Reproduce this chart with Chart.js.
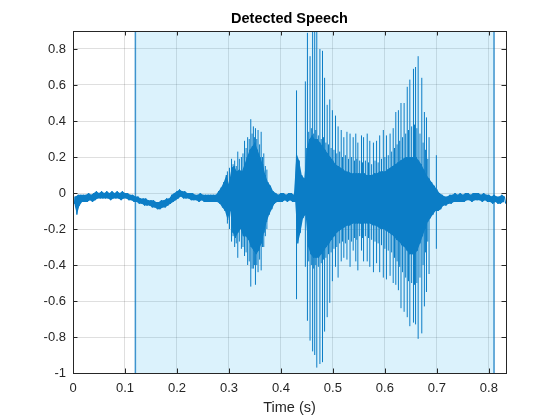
<!DOCTYPE html>
<html lang="en">
<head>
<meta charset="UTF-8">
<title>Detected Speech</title>
<script src="https://cdn.jsdelivr.net/npm/chart.js"></script>
<style>
  html, body { margin: 0; padding: 0; background: #fff; }
  #wrap { width: 560px; height: 420px; }
</style>
</head>
<body>
<div id="wrap"><canvas id="speech" width="560" height="420"></canvas></div>
<script>
// envelope of the waveform, one reading every 5 ms
const coreStep = 0.005;
const coreHigh = [
  -0.02, -0.02, -0.01, -0.01, -0.01, -0.01, 0.00, -0.01, 0.00, 0.01,
  0.00, 0.01, 0.00, 0.01, 0.00, 0.01, 0.00, 0.01, 0.00, 0.01,
  0.00, 0.00, -0.01, -0.01, -0.02, -0.02, -0.03, -0.03, -0.03, -0.04,
  -0.04, -0.04, -0.05, -0.05, -0.04, -0.04, -0.03, -0.03, -0.01, 0.00,
  0.01, 0.02, 0.01, 0.01, 0.00, 0.00, 0.00, -0.01, -0.01, 0.00,
  -0.01, -0.01, -0.01, -0.01, -0.01, -0.01, 0.01, 0.03, 0.06, 0.10,
  0.05, 0.14, 0.15, 0.12, 0.13, 0.12, 0.16, 0.20, 0.24, 0.26,
  0.28, 0.24, 0.20, 0.16, 0.10, 0.06, 0.04, 0.01, 0.00, -0.01,
  0.00, 0.00, -0.01, 0.00, 0.00, -0.01, 0.22, 0.18, 0.10, 0.08,
  0.25, 0.30, 0.32, 0.30, 0.30, 0.28, 0.26, 0.24, 0.22, 0.20,
  0.18, 0.16, 0.15, 0.14, 0.13, 0.12, 0.12, 0.11, 0.11, 0.11,
  0.11, 0.11, 0.11, 0.10, 0.10, 0.10, 0.11, 0.11, 0.12, 0.12,
  0.12, 0.13, 0.14, 0.15, 0.16, 0.17, 0.18, 0.19, 0.20, 0.20,
  0.20, 0.20, 0.20, 0.18, 0.16, 0.13, 0.10, 0.08, 0.06, 0.04,
  0.02, 0.00, -0.01, -0.02, -0.02, -0.01, -0.01, 0.00, -0.01, 0.00,
  -0.01, 0.00, 0.00, -0.01, 0.00, 0.00, 0.00, -0.01, 0.00, -0.01,
  -0.01, -0.02, -0.01, -0.02, -0.02, -0.01, -0.02
];
const coreLow = [
  -0.06, -0.12, -0.07, -0.05, -0.05, -0.05, -0.04, -0.05, -0.04, -0.03,
  -0.03, -0.03, -0.03, -0.03, -0.04, -0.03, -0.03, -0.03, -0.04, -0.03,
  -0.03, -0.04, -0.04, -0.05, -0.05, -0.06, -0.06, -0.07, -0.07, -0.07,
  -0.08, -0.08, -0.09, -0.09, -0.08, -0.08, -0.07, -0.06, -0.05, -0.04,
  -0.03, -0.02, -0.03, -0.03, -0.03, -0.04, -0.04, -0.04, -0.05, -0.04,
  -0.05, -0.05, -0.05, -0.05, -0.05, -0.05, -0.06, -0.08, -0.10, -0.15,
  -0.10, -0.22, -0.25, -0.22, -0.20, -0.24, -0.24, -0.26, -0.30, -0.32,
  -0.34, -0.32, -0.28, -0.22, -0.16, -0.12, -0.09, -0.06, -0.05, -0.05,
  -0.05, -0.04, -0.05, -0.04, -0.05, -0.05, -0.28, -0.22, -0.14, -0.12,
  -0.30, -0.34, -0.36, -0.36, -0.36, -0.34, -0.32, -0.30, -0.28, -0.26,
  -0.24, -0.22, -0.21, -0.20, -0.19, -0.18, -0.18, -0.17, -0.17, -0.17,
  -0.17, -0.17, -0.17, -0.17, -0.17, -0.18, -0.18, -0.19, -0.20, -0.20,
  -0.21, -0.22, -0.23, -0.24, -0.26, -0.27, -0.29, -0.30, -0.32, -0.34,
  -0.34, -0.34, -0.32, -0.28, -0.24, -0.20, -0.16, -0.14, -0.12, -0.10,
  -0.10, -0.09, -0.07, -0.07, -0.06, -0.06, -0.05, -0.05, -0.05, -0.05,
  -0.05, -0.04, -0.04, -0.05, -0.04, -0.04, -0.04, -0.05, -0.04, -0.05,
  -0.05, -0.06, -0.05, -0.06, -0.06, -0.05, -0.06
];

// pitch pulses / large excursions
const pulseTime = [
  0.297, 0.305, 0.311, 0.317, 0.324, 0.330, 0.336, 0.342, 0.347, 0.351, 0.356, 0.362, 0.367, 0.373,
  0.430, 0.447, 0.451, 0.456, 0.461, 0.465, 0.469, 0.475, 0.480, 0.484, 0.489, 0.494, 0.499, 0.505,
  0.510, 0.516, 0.521, 0.527, 0.533, 0.539, 0.544, 0.548, 0.555, 0.559, 0.566, 0.571, 0.578, 0.584,
  0.590, 0.597, 0.603, 0.610, 0.616, 0.621, 0.626, 0.631, 0.637, 0.643, 0.648, 0.655, 0.659, 0.664,
  0.671, 0.676, 0.680, 0.685, 0.699
];
const pulseTop = [
  0.12, 0.19, 0.18, 0.23, 0.20, 0.29, 0.31, 0.41, 0.37, 0.36, 0.35, 0.34, 0.22, 0.13,
  0.57, 0.62, 0.89, 0.76, 0.90, 0.90, 0.90, 0.80, 0.79, 0.64, 0.49, 0.52, 0.46, 0.43,
  0.37, 0.35, 0.31, 0.34, 0.33, 0.31, 0.33, 0.28, 0.32, 0.31, 0.33, 0.29, 0.28, 0.29,
  0.32, 0.35, 0.32, 0.33, 0.36, 0.45, 0.46, 0.50, 0.50, 0.59, 0.63, 0.69, 0.70, 0.76,
  0.64, 0.45, 0.42, 0.31, 0.21
];
const pulseBottom = [
  -0.17, -0.27, -0.30, -0.36, -0.31, -0.35, -0.40, -0.52, -0.42, -0.51, -0.44, -0.43, -0.30, -0.20,
  -0.59, -0.41, -0.71, -0.82, -0.88, -0.90, -0.97, -0.95, -0.94, -0.77, -0.69, -0.61, -0.49, -0.41,
  -0.47, -0.38, -0.36, -0.37, -0.41, -0.32, -0.38, -0.43, -0.32, -0.38, -0.38, -0.41, -0.44, -0.39,
  -0.44, -0.47, -0.48, -0.46, -0.50, -0.51, -0.54, -0.64, -0.66, -0.69, -0.74, -0.72, -0.73, -0.81,
  -0.78, -0.63, -0.55, -0.45, -0.31
];

// smaller secondary peaks between the main pulses
const echoTime = [
  0.301, 0.308, 0.314, 0.320, 0.327, 0.333, 0.339, 0.3445, 0.349, 0.3535, 0.359, 0.3645, 0.370,
  0.4535, 0.4585, 0.463, 0.467, 0.472, 0.4775, 0.482, 0.4865, 0.4915, 0.4965, 0.502, 0.5075,
  0.513, 0.5185, 0.524, 0.530, 0.536, 0.5415, 0.546, 0.5515, 0.557, 0.5625, 0.5685, 0.5745,
  0.581, 0.587, 0.5935, 0.600, 0.6065, 0.613, 0.6185, 0.6235, 0.6285, 0.634, 0.640, 0.6455,
  0.6515, 0.657, 0.6615, 0.6675, 0.6735, 0.678, 0.6825
];
const echoTop = [
  0.14, 0.16, 0.15, 0.19, 0.22, 0.25, 0.30, 0.33, 0.31, 0.30, 0.27, 0.20, 0.15,
  0.34, 0.36, 0.33, 0.35, 0.32, 0.30, 0.31, 0.28, 0.27, 0.25, 0.24, 0.22,
  0.23, 0.20, 0.21, 0.19, 0.20, 0.18, 0.19, 0.18, 0.17, 0.18, 0.17, 0.16,
  0.18, 0.17, 0.19, 0.20, 0.21, 0.23, 0.25, 0.27, 0.29, 0.31, 0.33, 0.35,
  0.37, 0.38, 0.36, 0.33, 0.28, 0.24, 0.19
];
const echoBottom = [
  -0.20, -0.24, -0.28, -0.27, -0.30, -0.33, -0.38, -0.42, -0.40, -0.40, -0.37, -0.30, -0.24,
  -0.38, -0.40, -0.42, -0.40, -0.41, -0.39, -0.37, -0.36, -0.34, -0.33, -0.31, -0.30,
  -0.28, -0.27, -0.28, -0.26, -0.27, -0.25, -0.26, -0.24, -0.25, -0.24, -0.25, -0.26,
  -0.27, -0.28, -0.29, -0.31, -0.32, -0.33, -0.36, -0.38, -0.41, -0.44, -0.47, -0.49,
  -0.50, -0.51, -0.50, -0.47, -0.40, -0.33, -0.27
];

// detected speech region (s)
const speechBounds = [0.12, 0.81];

const xTicks = [0, 0.1, 0.2, 0.3, 0.4, 0.5, 0.6, 0.7, 0.8];
const yTicks = [-1, -0.8, -0.6, -0.4, -0.2, 0, 0.2, 0.4, 0.6, 0.8];
const xLimits = [0, 0.833];
const yLimits = [-1, 0.9];

const waveColor = '#0b7dc6';
const fontFamily = '"Liberation Sans", Arial, Helvetica, sans-serif';

// zigzag between the high and low readings so the edges look ragged
const corePoints = [];
const upperPoints = [];
const lowerPoints = [];
for (let i = 0; i < coreHigh.length; i++) {
  const t = i * coreStep;
  corePoints.push({ x: t, y: coreHigh[i] });
  corePoints.push({ x: t + coreStep / 2, y: coreLow[i] });
  upperPoints.push({ x: t, y: coreHigh[i] });
  lowerPoints.push({ x: t + coreStep / 2, y: coreLow[i] });
}

// vertical strokes, broken by null points
function strokes(times, tops, bottoms) {
  const pts = [];
  for (let i = 0; i < times.length; i++) {
    pts.push({ x: times[i], y: bottoms[i] });
    pts.push({ x: times[i], y: tops[i] });
    pts.push({ x: times[i], y: null });
  }
  return pts;
}

const pulsePoints = strokes(pulseTime, pulseTop, pulseBottom);
const echoPoints = strokes(echoTime, echoTop, echoBottom);
const edgePoints = strokes(speechBounds, [yLimits[1], yLimits[1]], [yLimits[0], yLimits[0]]);

// title over the plot area, box + inward ticks on all four sides
const boxAxes = {
  id: 'boxAxes',
  afterDraw(chart) {
    const ctx = chart.ctx;
    const a = chart.chartArea;
    const xs = chart.scales.x, ys = chart.scales.y;
    const len = 4.5;
    ctx.save();
    ctx.strokeStyle = '#262626';
    ctx.lineWidth = 1;
    ctx.beginPath();
    xs.ticks.forEach(function (tk) {
      const px = Math.round(xs.getPixelForValue(tk.value)) + 0.5;
      ctx.moveTo(px, a.bottom); ctx.lineTo(px, a.bottom - len);
      ctx.moveTo(px, a.top); ctx.lineTo(px, a.top + len);
    });
    ys.ticks.forEach(function (tk) {
      const py = Math.round(ys.getPixelForValue(tk.value)) + 0.5;
      ctx.moveTo(a.left, py); ctx.lineTo(a.left + len, py);
      ctx.moveTo(a.right, py); ctx.lineTo(a.right - len, py);
    });
    ctx.stroke();
    ctx.strokeRect(Math.round(a.left) + 0.5, Math.round(a.top) + 0.5,
      Math.round(a.right - a.left), Math.round(a.bottom - a.top));

    ctx.fillStyle = '#000';
    ctx.font = 'bold 14.5px ' + fontFamily;
    ctx.textAlign = 'center';
    ctx.textBaseline = 'middle';
    ctx.fillText('Detected Speech', (a.left + a.right) / 2, 19);
    ctx.restore();
  }
};

const fmt = function (v) { return String(Math.round(v * 10) / 10); };

const lineBase = { showLine: true, pointRadius: 0, tension: 0, spanGaps: false };

new Chart(document.getElementById('speech'), {
  type: 'scatter',
  data: {
    datasets: [
      Object.assign({}, lineBase, {
        label: 'upper', data: upperPoints, fill: '+1',
        backgroundColor: waveColor, borderWidth: 0, order: 1
      }),
      Object.assign({}, lineBase, {
        label: 'lower', data: lowerPoints, fill: false, borderWidth: 0, order: 1
      }),
      Object.assign({}, lineBase, {
        label: 'wave', data: corePoints, borderColor: waveColor, borderWidth: 1, order: 1
      }),
      Object.assign({}, lineBase, {
        label: 'echoes', data: echoPoints, borderColor: waveColor, borderWidth: 1, order: 1
      }),
      Object.assign({}, lineBase, {
        label: 'pulses', data: pulsePoints, borderColor: waveColor, borderWidth: 1, order: 1
      }),
      Object.assign({}, lineBase, {
        label: 'edges', data: edgePoints, borderColor: 'rgba(0,114,189,0.75)', borderWidth: 1.5, order: 2
      }),
      Object.assign({}, lineBase, {
        label: 'speech',
        data: [{ x: speechBounds[0], y: yLimits[1] }, { x: speechBounds[1], y: yLimits[1] }],
        fill: 'start', backgroundColor: 'rgba(77,190,238,0.2)', borderWidth: 0, order: 3
      })
    ]
  },
  options: {
    responsive: false,
    animation: false,
    layout: { padding: { left: 0, right: 54, top: 31, bottom: 0 } },
    plugins: {
      legend: { display: false },
      tooltip: { enabled: false },
      title: { display: false }
    },
    scales: {
      x: {
        type: 'linear',
        min: xLimits[0],
        max: xLimits[1],
        afterBuildTicks: function (s) { s.ticks = xTicks.map(function (v) { return { value: v }; }); },
        afterFit: function (s) { s.height = 47; },
        grid: { color: 'rgba(38,38,38,0.15)', drawTicks: false },
        border: { display: false },
        ticks: {
          color: '#262626',
          font: { family: fontFamily, size: 13 },
          padding: 8,
          autoSkip: false,
          maxRotation: 0,
          callback: fmt
        },
        title: {
          display: true,
          text: 'Time (s)',
          color: '#262626',
          font: { family: fontFamily, size: 14.5 },
          padding: { top: 0, bottom: 3 }
        }
      },
      y: {
        type: 'linear',
        min: yLimits[0],
        max: yLimits[1],
        afterBuildTicks: function (s) { s.ticks = yTicks.map(function (v) { return { value: v }; }); },
        afterFit: function (s) { s.width = 73; },
        grid: { color: 'rgba(38,38,38,0.15)', drawTicks: false },
        border: { display: false },
        ticks: {
          color: '#262626',
          font: { family: fontFamily, size: 13 },
          padding: 7,
          autoSkip: false,
          callback: fmt
        }
      }
    }
  },
  plugins: [boxAxes]
});
</script>
</body>
</html>
